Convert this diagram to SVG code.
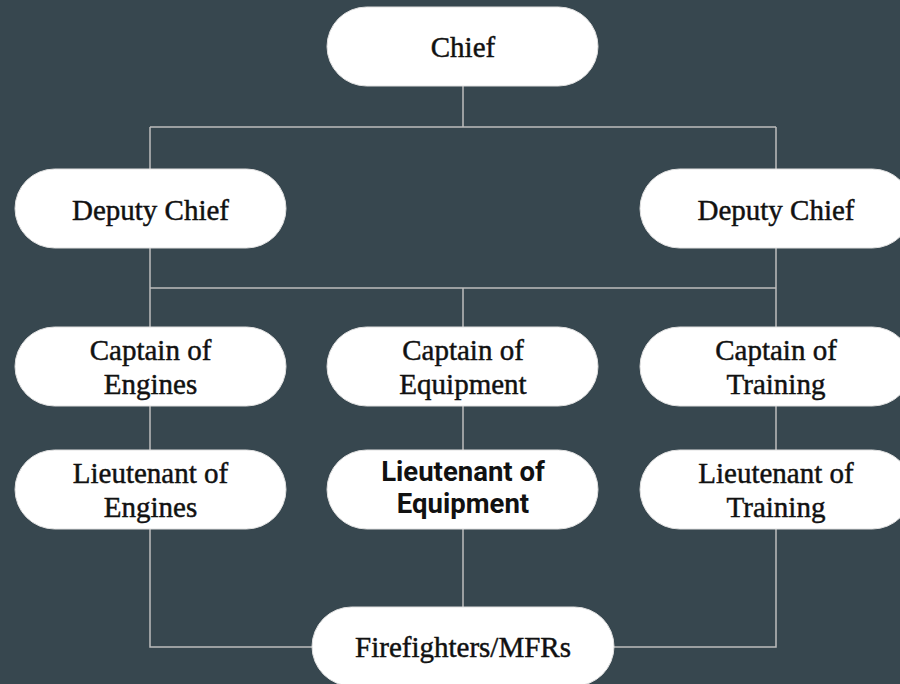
<svg xmlns="http://www.w3.org/2000/svg" width="900" height="684" viewBox="0 0 900 684">
  <style>
    .box { fill: #ffffff; stroke: #e0e0e0; stroke-width: 1; }
    .lbl { font-family: "Liberation Serif", "Times New Roman", serif; font-size: 29px; fill: #111111; stroke: #111111; stroke-width: 0.45; text-anchor: middle; }
    .lbl-bold { font-family: Roboto, "Liberation Sans", Arial, sans-serif; font-weight: bold; font-size: 27.5px; fill: #111111; text-anchor: middle; }
    .wire { fill: none; stroke: #bdbdbd; stroke-width: 1.5; }
  </style>
  <rect width="900" height="684" fill="#37474f"/>

  <!-- connectors -->
  <g id="connectors" class="wire">
    <path d="M463,86 V127 M150,127 H776 M150,127 V169 M776,127 V169"/>
    <path d="M150,248 V288 M776,248 V288 M150,288 H776 M150,288 V327 M463,288 V327 M776,288 V327"/>
    <path d="M150,406 V450 M463,406 V450 M776,406 V450"/>
    <path d="M150,529 V647 H312 M776,529 V647 H614 M463,529 V607"/>
  </g>

  <g id="chief">
    <rect class="box" x="327" y="7" width="271" height="79" rx="39.5"/>
    <text class="lbl" x="463" y="57">Chief</text>
  </g>

  <g id="deputy-chief-left">
    <rect class="box" x="15" y="169" width="271" height="79" rx="39.5"/>
    <text class="lbl" x="150.5" y="220">Deputy Chief</text>
  </g>

  <g id="deputy-chief-right">
    <rect class="box" x="640" y="169" width="272" height="79" rx="39.5"/>
    <text class="lbl" x="776" y="220">Deputy Chief</text>
  </g>

  <g id="captain-engines">
    <rect class="box" x="15" y="327" width="271" height="79" rx="39.5"/>
    <text class="lbl" x="150.5" y="360">Captain of</text>
    <text class="lbl" x="150.5" y="394">Engines</text>
  </g>

  <g id="captain-equipment">
    <rect class="box" x="327" y="327" width="271" height="79" rx="39.5"/>
    <text class="lbl" x="463" y="360">Captain of</text>
    <text class="lbl" x="463" y="394">Equipment</text>
  </g>

  <g id="captain-training">
    <rect class="box" x="640" y="327" width="272" height="79" rx="39.5"/>
    <text class="lbl" x="776" y="360">Captain of</text>
    <text class="lbl" x="776" y="394">Training</text>
  </g>

  <g id="lieutenant-engines">
    <rect class="box" x="15" y="450" width="271" height="79" rx="39.5"/>
    <text class="lbl" x="150.5" y="483">Lieutenant of</text>
    <text class="lbl" x="150.5" y="517">Engines</text>
  </g>

  <g id="lieutenant-equipment">
    <rect class="box" x="327" y="450" width="271" height="79" rx="39.5"/>
    <text class="lbl-bold" x="463" y="481">Lieutenant of</text>
    <text class="lbl-bold" x="463" y="513">Equipment</text>
  </g>

  <g id="lieutenant-training">
    <rect class="box" x="640" y="450" width="272" height="79" rx="39.5"/>
    <text class="lbl" x="776" y="483">Lieutenant of</text>
    <text class="lbl" x="776" y="517">Training</text>
  </g>

  <g id="firefighters">
    <rect class="box" x="312" y="607" width="302" height="79" rx="39.5"/>
    <text class="lbl" x="463" y="657">Firefighters/MFRs</text>
  </g>
</svg>
